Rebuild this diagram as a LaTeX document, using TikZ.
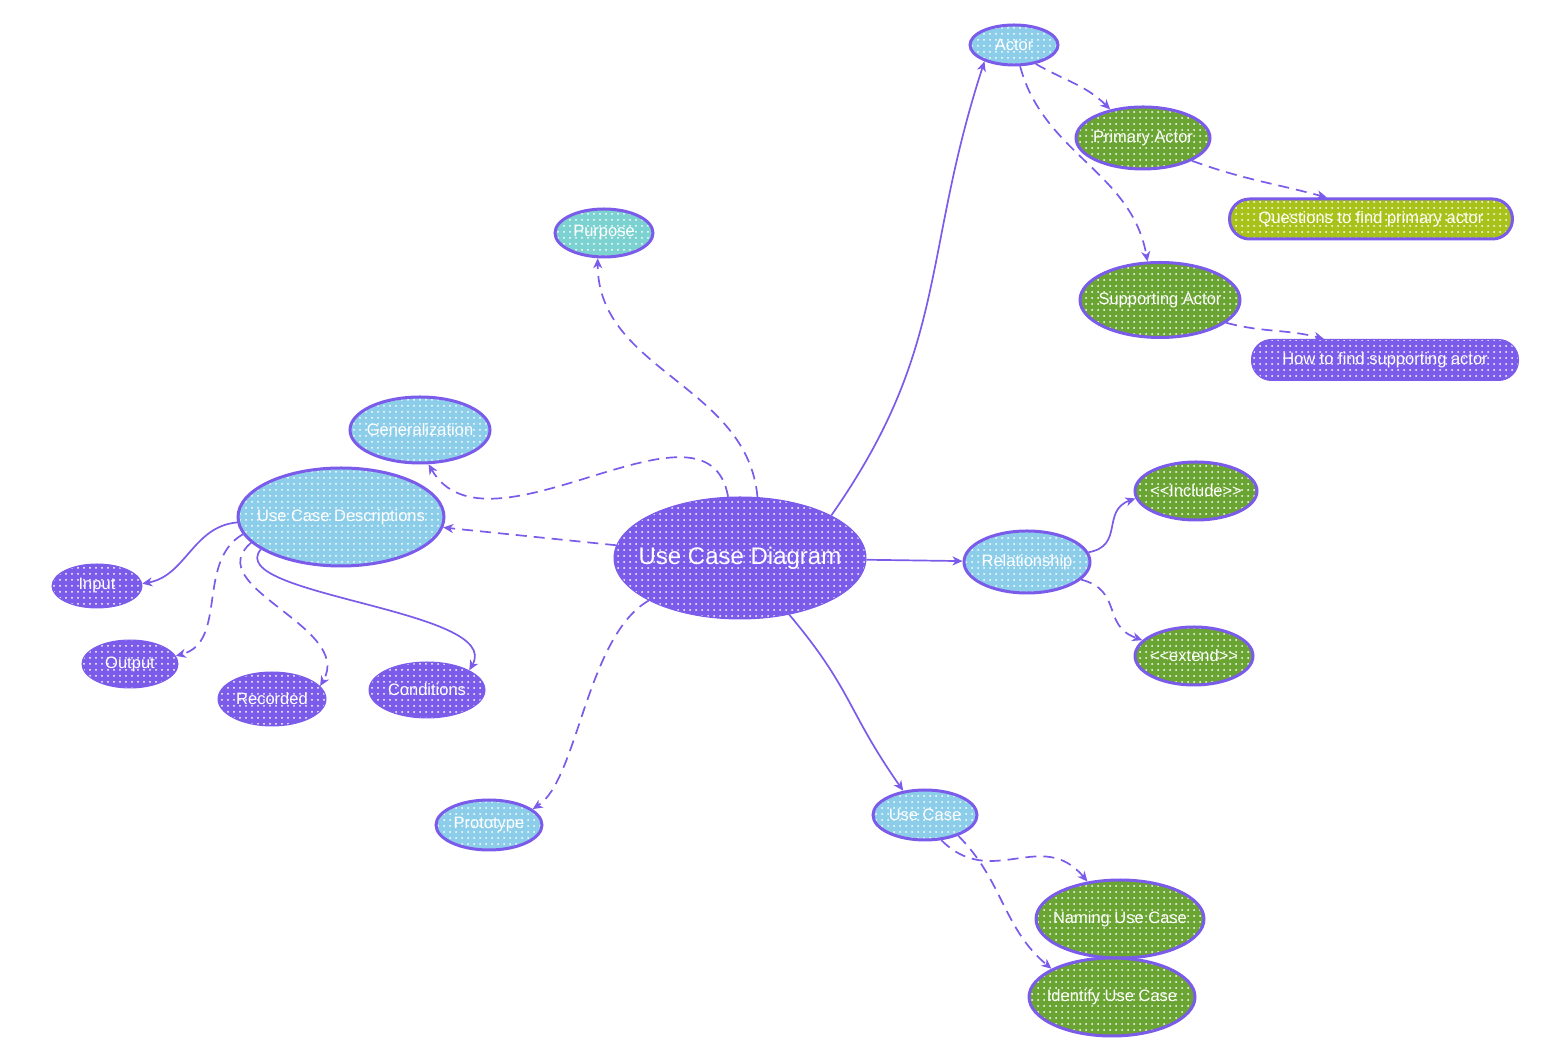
\documentclass[tikz,border=0pt]{standalone}
\usepackage{fontspec}
\setmainfont{Liberation Sans}
\usetikzlibrary{arrows.meta,shapes.geometric,patterns.meta}

\definecolor{ucpurple}{RGB}{123,92,234}
\definecolor{ucblue}{RGB}{140,206,234}
\definecolor{ucteal}{RGB}{124,210,208}
\definecolor{ucgreen}{RGB}{106,164,50}
\definecolor{uclime}{RGB}{168,194,26}

\tikzset{
	bubble/.style={ellipse, draw=ucpurple, line width=3pt, inner xsep=-40pt, inner ysep=0pt,
		text=white, font=\fontsize{16.5}{19}\selectfont,
		pattern={Dots[distance=6pt,radius=1pt]}, pattern color=white},
	pill/.style={bubble, rectangle, rounded corners=20pt, inner xsep=0pt},
	bluefill/.style={preaction={fill=ucblue}},
	tealfill/.style={preaction={fill=ucteal}},
	greenfill/.style={preaction={fill=ucgreen}},
	limefill/.style={preaction={fill=uclime}},
	purplefill/.style={preaction={fill=ucpurple}, line width=1pt},
	link/.style={draw=ucpurple, line width=1.7pt, -{Stealth[length=10pt,width=9pt,inset=3pt]}},
	dlink/.style={link, dash pattern=on 11pt off 7pt}
}

\begin{document}
\begin{tikzpicture}[x=1pt, y=1pt]
	% Nodes:
	\useasboundingbox (0,0) rectangle (1542,1060);
	\node[bubble, purplefill, minimum width=252pt, minimum height=122pt, font=\fontsize{24}{28}\selectfont](root) at (740,502){Use Case Diagram};
	\node[bubble, bluefill, minimum width=88pt, minimum height=40pt](actor) at (1014,1015){Actor};
	\node[bubble, greenfill, minimum width=134pt, minimum height=62pt](primary) at (1143,922){Primary Actor};
	\node[pill, limefill, minimum width=283pt, minimum height=40pt](questions) at (1371,841){Questions to find primary actor};
	\node[bubble, greenfill, minimum width=160pt, minimum height=75pt](supporting) at (1160,760){Supporting Actor};
	\node[pill, purplefill, minimum width=267pt, minimum height=41pt](howto) at (1385,700){How to find supporting actor};
	\node[bubble, tealfill, minimum width=98pt, minimum height=48pt](purpose) at (604,827){Purpose};
	\node[bubble, bluefill, minimum width=140pt, minimum height=66pt](general) at (420,630){Generalization};
	\node[bubble, bluefill, minimum width=206pt, minimum height=98pt](ucd) at (341,543){Use Case Descriptions};
	\node[bubble, purplefill, minimum width=90pt, minimum height=44pt](input) at (97,474){Input};
	\node[bubble, purplefill, minimum width=96pt, minimum height=48pt](output) at (130,396){Output};
	\node[bubble, purplefill, minimum width=108pt, minimum height=54pt](recorded) at (272,361){Recorded};
	\node[bubble, purplefill, minimum width=116pt, minimum height=56pt](conditions) at (427,370){Conditions};
	\node[bubble, bluefill, minimum width=106pt, minimum height=50pt](prototype) at (489,235){Prototype};
	\node[bubble, bluefill, minimum width=126pt, minimum height=62pt](relation) at (1027,498){Relationship};
	\node[bubble, greenfill, minimum width=122pt, minimum height=58pt](include) at (1196,569){<{}<Include>{}>};
	\node[bubble, greenfill, minimum width=118pt, minimum height=58pt](extend) at (1194,404){<{}<extend>{}>};
	\node[bubble, bluefill, minimum width=104pt, minimum height=50pt](usecase) at (925,245){Use Case};
	\node[bubble, greenfill, minimum width=168pt, minimum height=78pt](naming) at (1120,141){Naming Use Case};
	\node[bubble, greenfill, minimum width=166pt, minimum height=78pt](identify) at (1112,63){Identify Use Case};
	% Connectors:
	\draw[link] (root.25) to[out=55, in=252, looseness=1.1] (actor.209);
	\draw[dlink] (root.74) to[out=95, in=270] (purpose.256);
	\draw[dlink] (root.101) to[out=100, in=300] (general.284);
	\draw[dlink] (root) -- (ucd);
	\draw[dlink] (root.205) .. controls +(210:72) and +(33:54) .. (prototype.20);
	\draw[link] (root) -- (relation);
	\draw[link] (root.-49) to[out=-50, in=125, looseness=1.2] (usecase.132);
	\draw[dlink] (actor.-41) to[out=-30, in=135] (primary.139);
	\draw[dlink] (actor.-74) to[out=-75, in=100] (supporting.108);
	\draw[dlink] (primary.-25) to[out=-20, in=165] (questions.154);
	\draw[dlink] (supporting.-19) to[out=-15, in=165] (howto.161);
	\draw[link] (relation.9) to[out=10, in=200, looseness=1.3] (include.187);
	\draw[dlink] (relation.-18) to[out=-15, in=160, looseness=1.3] (extend.163);
	\draw[dlink] (usecase.-57) to[out=-45, in=130, looseness=1.2] (naming.131);
	\draw[dlink] (usecase.-32) to[out=-45, in=140] (identify.155);
	\draw[link] (ucd.183) to[out=185, in=10] (input.3);
	\draw[dlink] (ucd.190) to[out=210, in=15] (output.10);
	\draw[dlink] (ucd.196) to[out=220, in=60, looseness=1.1] (recorded.15);
	\draw[link] (ucd.202) .. controls +(230:60) and +(60:70) .. (conditions.25);
\end{tikzpicture}
\end{document}
